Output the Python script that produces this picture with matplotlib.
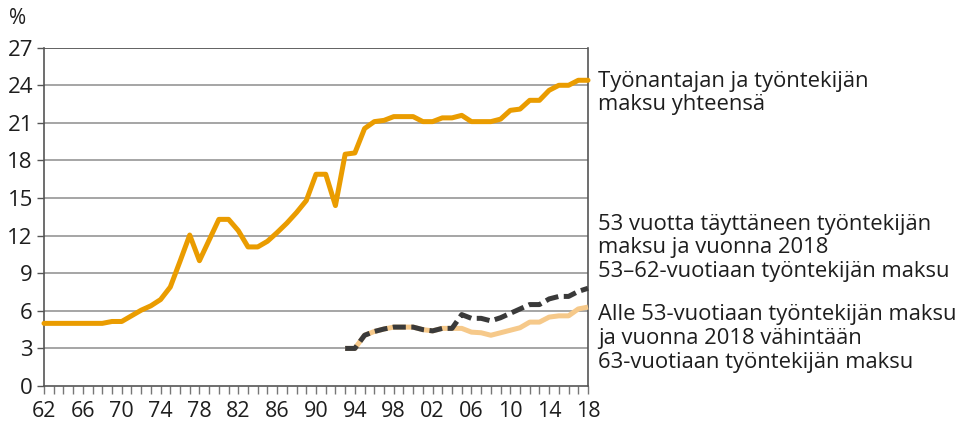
import matplotlib
matplotlib.use("Agg")
import matplotlib.pyplot as plt
import numpy as np

years = list(range(1962, 2019))
total = [5.0, 5.0, 5.0, 5.0, 5.0, 5.0, 5.0,
         5.15, 5.15, 5.6, 6.05, 6.4, 6.9, 7.9, 9.95, 12.05, 10.0, 11.65, 13.3, 13.3,
         12.4, 11.1, 11.1, 11.55, 12.25, 13.0, 13.85, 14.8, 16.9, 16.9, 14.4, 18.5,
         18.6, 20.55, 21.1, 21.2, 21.5, 21.5, 21.5, 21.1, 21.1, 21.4, 21.4, 21.6,
         21.1, 21.1, 21.1, 21.3, 22.0, 22.1, 22.8, 22.8, 23.6, 24.0, 24.0, 24.4, 24.4]
years_w = list(range(1993, 2019))
older = [3.0, 3.0, 4.05, 4.35, 4.55, 4.7, 4.7, 4.7, 4.5, 4.4, 4.6, 4.6,
         5.7, 5.4, 5.4, 5.2, 5.45, 5.8, 6.15, 6.5, 6.5, 6.95, 7.15, 7.15, 7.55, 7.8]
younger = [3.0, 3.0, 4.05, 4.35, 4.55, 4.7, 4.7, 4.7, 4.5, 4.4, 4.6, 4.6,
           4.6, 4.3, 4.25, 4.05, 4.25, 4.45, 4.65, 5.1, 5.1, 5.5, 5.6, 5.6, 6.15, 6.3]
xtick_years = list(range(1962, 2019, 4))
xtick_labels = [f"{y % 100:02d}" for y in xtick_years]
yticks = list(range(0, 28, 3))

labels = [["Työnantajan ja työntekijän", "maksu yhteensä"],
          ["53 vuotta täyttäneen työntekijän", "maksu ja vuonna 2018",
           "53–62-vuotiaan työntekijän maksu"],
          ["Alle 53-vuotiaan työntekijän maksu", "ja vuonna 2018 vähintään",
           "63-vuotiaan työntekijän maksu"]]
label_baselines = [[87, 110], [230, 253.5, 277], [320, 344, 368]]

plt.rcParams['font.family'] = ['Open Sans', 'DejaVu Sans']

fig = plt.figure(figsize=(9.63, 4.24), dpi=100)
ax = fig.add_axes([0.0457, 0.0896, 0.5649, 0.7979])

c_total = '#EA9C00'
c_young = '#F6C98A'
c_old = '#3A3A3A'
c_text = '#1E1E1E'

for y in yticks[1:]:
    ax.axhline(y, color='#9E9E9E' if y < 27 else '#555555', lw=1.3, zorder=1)

ax.plot(years_w, younger, color=c_young, lw=3.6, solid_capstyle='butt', zorder=3, clip_on=False)
ax.plot(years_w, older, color=c_old, lw=3.6, dashes=(2.6, 1.1), dash_capstyle='butt', zorder=4, clip_on=False)
ax.plot(years, total, color=c_total, lw=3.6, solid_capstyle='round', solid_joinstyle='round', zorder=5, clip_on=False)

ax.set_xlim(1962, 2018)
ax.set_ylim(0, 27)
ax.set_yticks(yticks)
ax.set_yticklabels([str(v) for v in yticks])
ax.set_xticks(xtick_years)
ax.set_xticklabels(xtick_labels)
ax.set_xticks(years, minor=True)

for s in ['left', 'right', 'bottom']:
    ax.spines[s].set_color('#555555')
    ax.spines[s].set_linewidth(1.2)
ax.spines['top'].set_visible(False)

ax.tick_params(axis='y', length=5, width=1, color='#555555', labelsize=16, pad=3, labelcolor=c_text)
ax.tick_params(axis='x', which='both', length=6, width=1, color='#777777', labelsize=15.5, pad=5)
ax.tick_params(axis='x', labelcolor=c_text)

fig.text(18/963, 1 - 19/424, '%', fontsize=15, ha='center', va='center', color=c_text)

for lines, bases in zip(labels, label_baselines):
    for line, b in zip(lines, bases):
        fig.text(598/963, 1 - b/424, line, fontsize=15.8, ha='left', va='baseline', color=c_text)

fig.savefig('out.png', dpi=100)
